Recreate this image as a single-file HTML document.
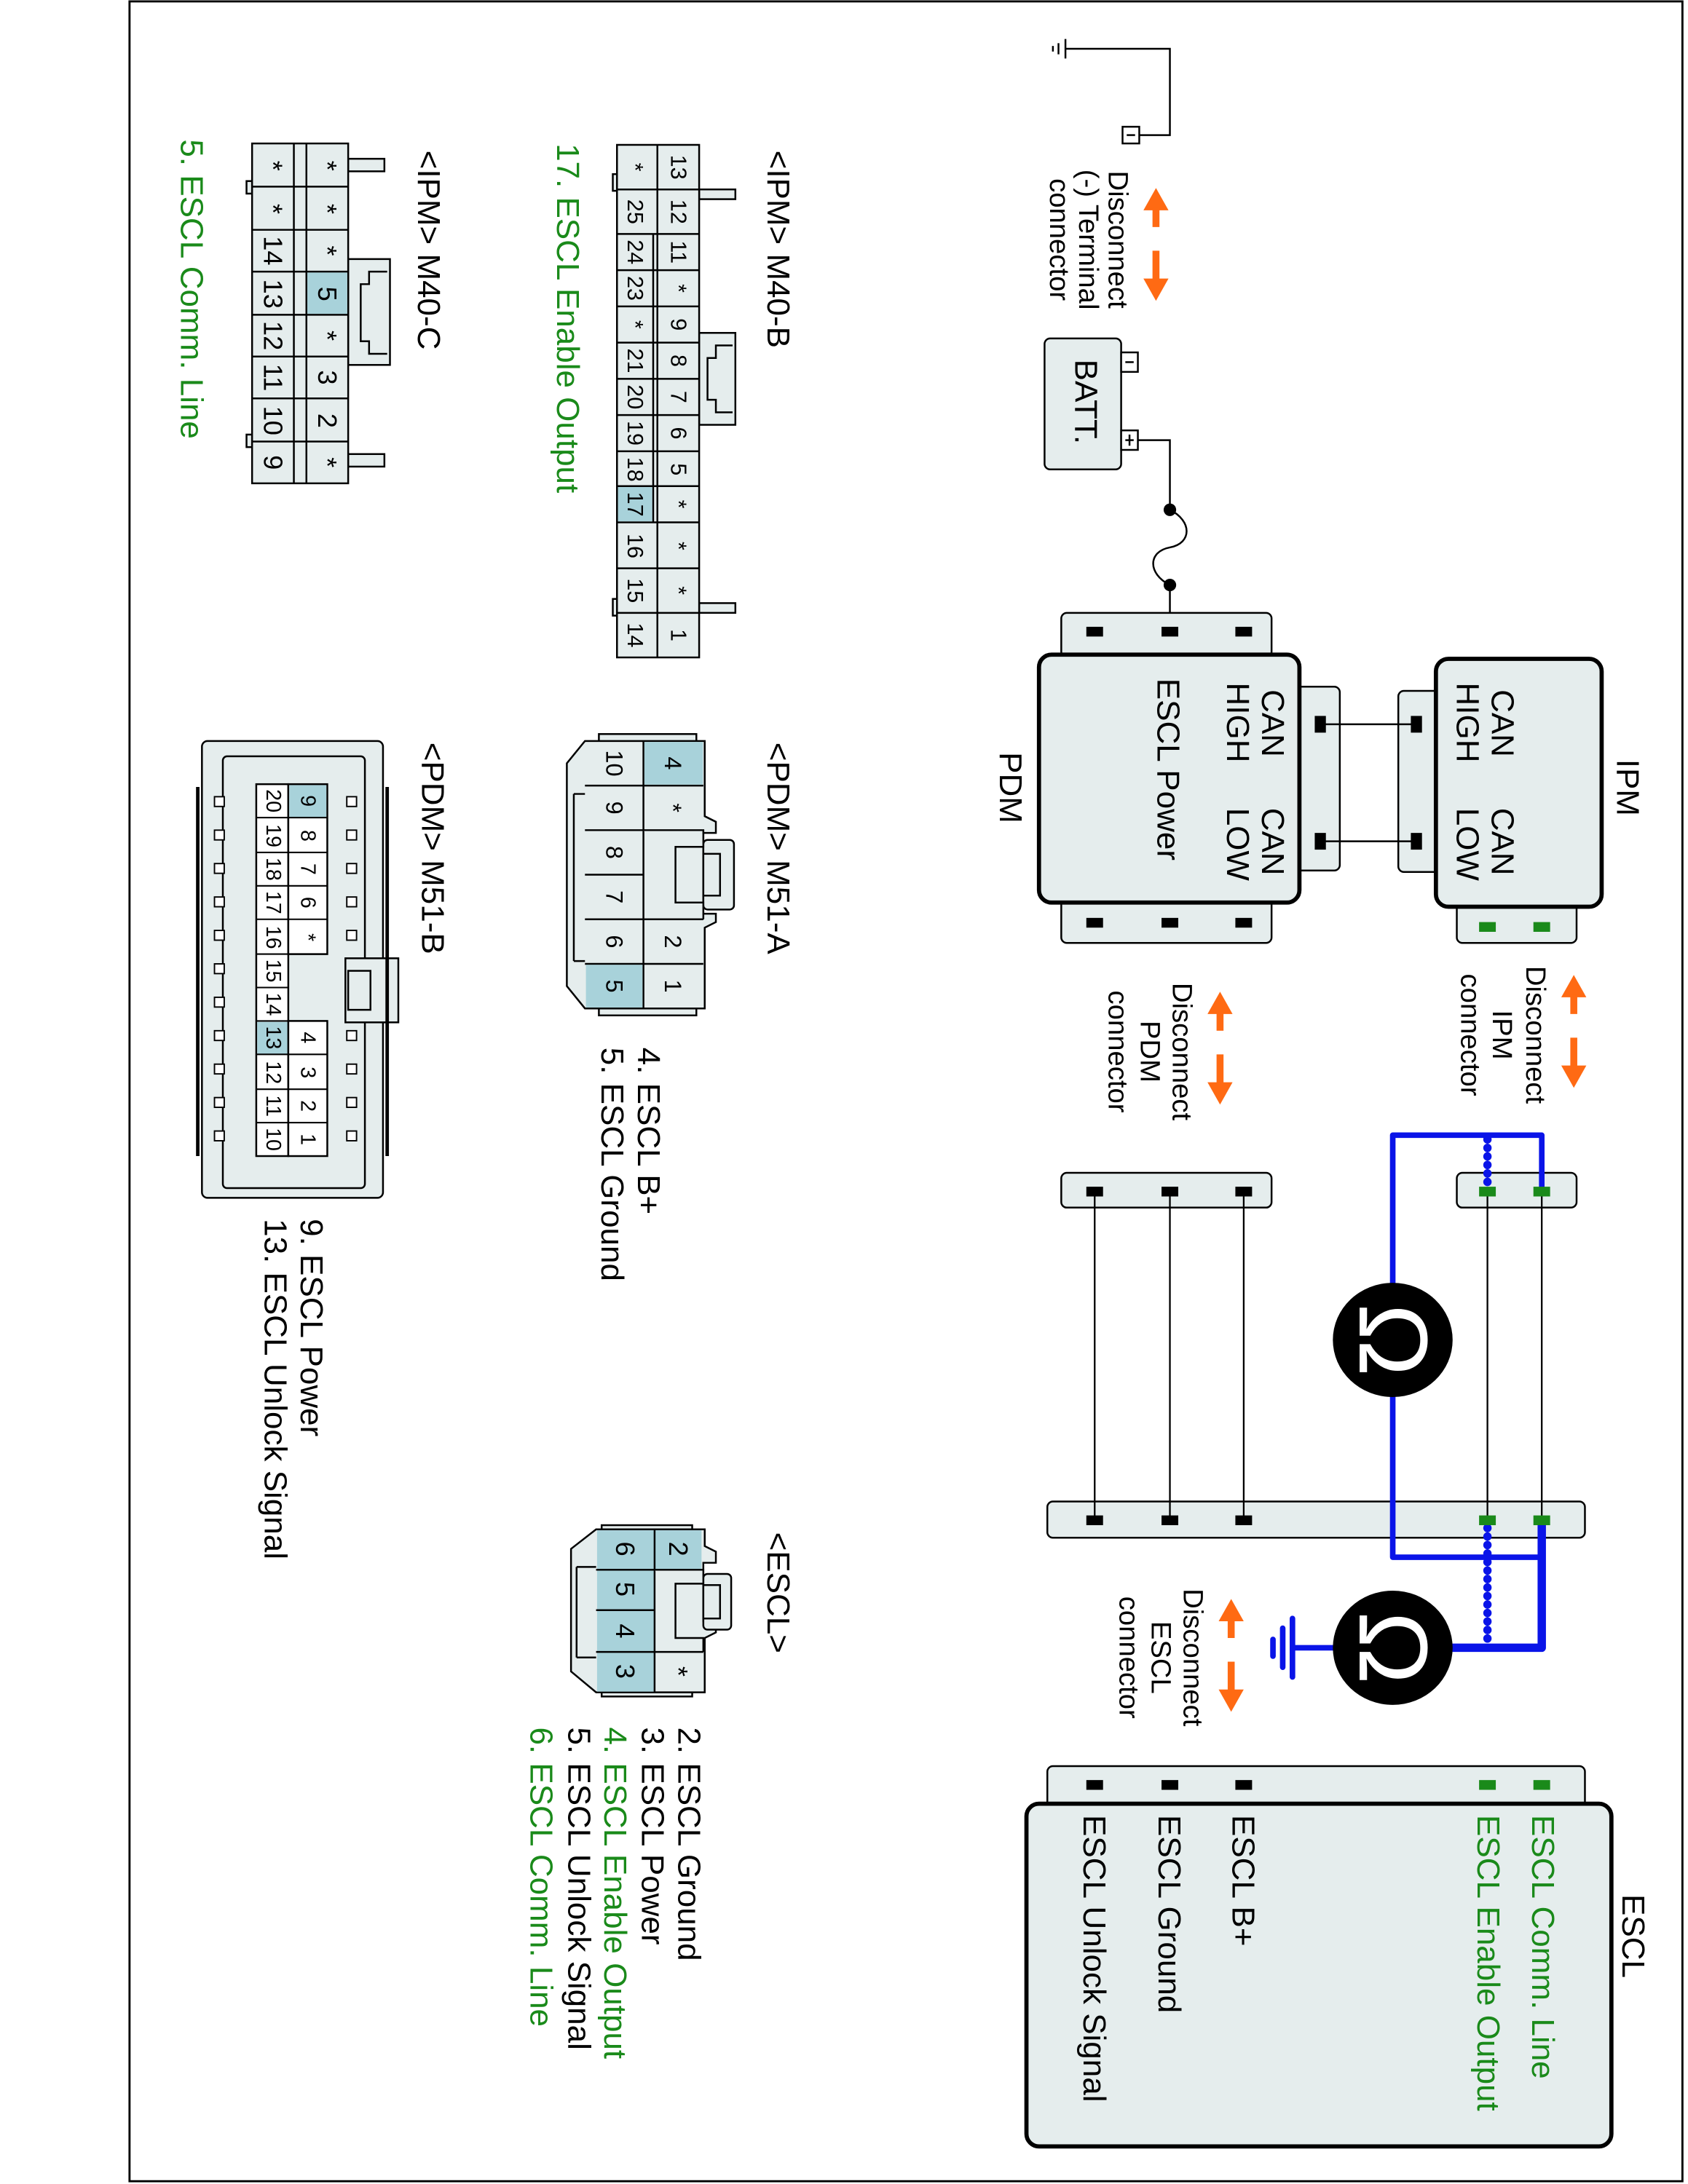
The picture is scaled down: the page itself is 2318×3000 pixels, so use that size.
<!DOCTYPE html>
<html><head><meta charset="utf-8"><style>
html,body{margin:0;padding:0;background:#fff;}
svg{display:block;}
text{font-family:"Liberation Sans",Arial,sans-serif;}
</style></head><body>
<svg width="2318" height="3000" viewBox="0 0 1212 1568" preserveAspectRatio="none" xmlns="http://www.w3.org/2000/svg">
<rect x="0" y="0" width="1212" height="1568" fill="#fff"/>
<rect x="93" y="1" width="1115" height="1565" fill="none" stroke="#000" stroke-width="1.5"/>

<!-- ground + minus terminal -->
<g stroke="#000" stroke-width="1.3" fill="none">
<path d="M765,35 H840 V97 H818"/>
<line x1="765" y1="28" x2="765" y2="42"/><line x1="760" y1="31" x2="760" y2="39"/><line x1="756" y1="33" x2="756" y2="37"/>
<rect x="806" y="91" width="12" height="12" fill="#fff"/>
<line x1="809" y1="97" x2="815" y2="97"/>
</g>
<!-- BATT -->
<rect x="750" y="243" width="55" height="94" rx="4" fill="#e5eded" stroke="#000" stroke-width="1.3"/>
<g stroke="#000" stroke-width="1.3" fill="#fff">
<rect x="805" y="253" width="12" height="14"/><line x1="808" y1="260" x2="814" y2="260"/>
<rect x="805" y="309" width="12" height="14"/><line x1="808" y1="316" x2="814" y2="316"/><line x1="811" y1="312" x2="811" y2="320"/>
</g>
<text transform="translate(772,258) rotate(90)" font-size="23">BATT.</text>
<path d="M817,316 H840 V366 C856,374 856,390 840,393 C824,396 824,412 840,420 V453" fill="none" stroke="#000" stroke-width="1.3"/>
<circle cx="840" cy="366" r="4.5"/><circle cx="840" cy="420" r="4.5"/>

<!-- orange arrows -->
<g fill="#ff6a13" stroke="none">
<g><polygon points="830,135 821,151 839,151"/><rect x="827.5" y="149" width="5" height="14"/><rect x="827.5" y="180" width="5" height="22"/><polygon points="830,216 821,200 839,200"/></g>
<g transform="translate(300,565)"><polygon points="830,135 821,151 839,151"/><rect x="827.5" y="149" width="5" height="14"/><rect x="827.5" y="180" width="5" height="22"/><polygon points="830,216 821,200 839,200"/></g>
<g transform="translate(46,577)"><polygon points="830,135 821,151 839,151"/><rect x="827.5" y="149" width="5" height="14"/><rect x="827.5" y="180" width="5" height="22"/><polygon points="830,216 821,200 839,200"/></g>
<g transform="translate(54,1013)"><polygon points="830,135 821,151 839,151"/><rect x="827.5" y="149" width="5" height="14"/><rect x="827.5" y="180" width="5" height="22"/><polygon points="830,216 821,200 839,200"/></g>
</g>
<g font-size="20" text-anchor="middle">
<text transform="translate(796,172) rotate(90)">Disconnect</text>
<text transform="translate(775,172) rotate(90)">(-) Terminal</text>
<text transform="translate(754,172) rotate(90)">connector</text>
<text transform="translate(1096,743) rotate(90)">Disconnect</text>
<text transform="translate(1072,743) rotate(90)">IPM</text>
<text transform="translate(1049,743) rotate(90)">connector</text>
<text transform="translate(842,755) rotate(90)">Disconnect</text>
<text transform="translate(819,755) rotate(90)">PDM</text>
<text transform="translate(796,755) rotate(90)">connector</text>
<text transform="translate(850,1190) rotate(90)">Disconnect</text>
<text transform="translate(827,1190) rotate(90)">ESCL</text>
<text transform="translate(804,1190) rotate(90)">connector</text>
</g>

<!-- PDM -->
<g stroke="#000" stroke-width="1.3" fill="#e5eded">
<rect x="762" y="440" width="151" height="32" rx="4"/>
<rect x="762" y="645" width="151" height="32" rx="4"/>
<rect x="930" y="493" width="32" height="132" rx="4"/>
<rect x="1004" y="496" width="30" height="130" rx="4"/>
<rect x="1046" y="648" width="86" height="29" rx="4"/>
<rect x="746" y="470" width="187" height="178" rx="9" stroke-width="3"/>
<rect x="1031" y="473" width="119" height="178" rx="9" stroke-width="3"/>
</g>
<g fill="#000">
<rect x="780" y="450" width="12" height="7"/><rect x="834" y="450" width="12" height="7"/><rect x="887" y="450" width="12" height="7"/>
<rect x="780" y="659" width="12" height="7"/><rect x="834" y="659" width="12" height="7"/><rect x="887" y="659" width="12" height="7"/>
<rect x="944" y="514" width="8" height="12"/><rect x="944" y="598" width="8" height="12"/>
<rect x="1013" y="514" width="8" height="12"/><rect x="1013" y="598" width="8" height="12"/>
</g>
<g stroke="#000" stroke-width="1.3"><line x1="948" y1="520" x2="1017" y2="520"/><line x1="948" y1="604" x2="1017" y2="604"/></g>
<g fill="#1a8a1a"><rect x="1062" y="662" width="12" height="7"/><rect x="1101" y="662" width="12" height="7"/></g>
<g font-size="23">
<text transform="translate(718,540) rotate(90)">PDM</text>
<text transform="translate(906,495) rotate(90)">CAN</text>
<text transform="translate(881,490) rotate(90)">HIGH</text>
<text transform="translate(906,580) rotate(90)">CAN</text>
<text transform="translate(881,580) rotate(90)">LOW</text>
<text transform="translate(831,487) rotate(90)">ESCL Power</text>
<text transform="translate(1071,495) rotate(90)">CAN</text>
<text transform="translate(1046,490) rotate(90)">HIGH</text>
<text transform="translate(1071,580) rotate(90)">CAN</text>
<text transform="translate(1046,580) rotate(90)">LOW</text>
<text transform="translate(1161,545) rotate(90)">IPM</text>
</g>

<!-- middle strips -->
<g stroke="#000" stroke-width="1.3" fill="#e5eded">
<rect x="1046" y="842" width="86" height="25" rx="4"/>
<rect x="762" y="842" width="151" height="25" rx="4"/>
<rect x="752" y="1078" width="386" height="26" rx="4"/>
<rect x="752" y="1268" width="386" height="30" rx="4"/>
</g>
<g stroke="#000" stroke-width="1.2">
<line x1="786" y1="855" x2="786" y2="1091"/><line x1="840" y1="855" x2="840" y2="1091"/><line x1="893" y1="855" x2="893" y2="1091"/>
<line x1="1068" y1="855" x2="1068" y2="1091"/><line x1="1107" y1="855" x2="1107" y2="1091"/>
</g>
<!-- blue -->
<g stroke="#0a14e8" fill="none" stroke-linejoin="round">
<path d="M1107,855 V815 H1000 V925" stroke-width="4"/>
<path d="M1000,1000 V1118 H1107" stroke-width="4"/>
<path d="M1107,1091 V1183 H1040" stroke-width="6"/>
<line x1="1068" y1="818" x2="1068" y2="852" stroke-width="6" stroke-dasharray="0.1,6" stroke-linecap="round"/>
<line x1="1068" y1="1097" x2="1068" y2="1181" stroke-width="6" stroke-dasharray="0.1,6" stroke-linecap="round"/>
<line x1="960" y1="1183" x2="928" y2="1183" stroke-width="4"/>
<line x1="928" y1="1162" x2="928" y2="1204" stroke-width="4" stroke-linecap="round"/>
<line x1="921" y1="1169" x2="921" y2="1197" stroke-width="4" stroke-linecap="round"/>
<line x1="914" y1="1177" x2="914" y2="1189" stroke-width="4" stroke-linecap="round"/>
</g>
<g fill="#000">
<rect x="780" y="852" width="12" height="7"/><rect x="834" y="852" width="12" height="7"/><rect x="887" y="852" width="12" height="7"/>
<rect x="780" y="1088" width="12" height="7"/><rect x="834" y="1088" width="12" height="7"/><rect x="887" y="1088" width="12" height="7"/>
<rect x="780" y="1278" width="12" height="7"/><rect x="834" y="1278" width="12" height="7"/><rect x="887" y="1278" width="12" height="7"/>
</g>
<g fill="#1a8a1a">
<rect x="1062" y="852" width="12" height="7"/><rect x="1101" y="852" width="12" height="7"/>
<rect x="1062" y="1088" width="12" height="7"/><rect x="1101" y="1088" width="12" height="7"/>
<rect x="1062" y="1278" width="12" height="7"/><rect x="1101" y="1278" width="12" height="7"/>
</g>
<ellipse cx="1000" cy="962" rx="43" ry="41"/>
<ellipse cx="1000" cy="1183" rx="43" ry="41"/>
<g fill="#fff" font-size="70" text-anchor="middle" dominant-baseline="central">
<text transform="translate(1000,962) rotate(90)">Ω</text>
<text transform="translate(1000,1183) rotate(90)">Ω</text>
</g>

<!-- ESCL box -->
<rect x="737" y="1295" width="420" height="246" rx="9" fill="#e5eded" stroke="#000" stroke-width="3"/>
<g font-size="23">
<text transform="translate(1100,1303) rotate(90)" fill="#1a8a1a">ESCL Comm. Line</text>
<text transform="translate(1061,1303) rotate(90)" fill="#1a8a1a">ESCL Enable Output</text>
<text transform="translate(885,1303) rotate(90)">ESCL B+</text>
<text transform="translate(832,1303) rotate(90)">ESCL Ground</text>
<text transform="translate(778,1303) rotate(90)">ESCL Unlock Signal</text>
<text transform="translate(1165,1360) rotate(90)">ESCL</text>
</g>

<!-- ===== Connector faces ===== -->
<g font-size="23">
<text transform="translate(551,108) rotate(90)">&lt;IPM&gt; M40-B</text>
<text transform="translate(300,108) rotate(90)">&lt;IPM&gt; M40-C</text>
<text transform="translate(551,533) rotate(90)">&lt;PDM&gt; M51-A</text>
<text transform="translate(303,533) rotate(90)">&lt;PDM&gt; M51-B</text>
<text transform="translate(551,1100) rotate(90)">&lt;ESCL&gt;</text>
<text transform="translate(400,103) rotate(90)" fill="#1a8a1a">17. ESCL Enable Output</text>
<text transform="translate(130,100) rotate(90)" fill="#1a8a1a">5. ESCL Comm. Line</text>
<text transform="translate(458,752) rotate(90)">4. ESCL B+</text>
<text transform="translate(432,752) rotate(90)">5. ESCL Ground</text>
<text transform="translate(216,875) rotate(90)">9. ESCL Power</text>
<text transform="translate(190,875) rotate(90)">13. ESCL Unlock Signal</text>
<text transform="translate(487,1240) rotate(90)">2. ESCL Ground</text>
<text transform="translate(461,1240) rotate(90)">3. ESCL Power</text>
<text transform="translate(434,1240) rotate(90)" fill="#1a8a1a">4. ESCL Enable Output</text>
<text transform="translate(408,1240) rotate(90)">5. ESCL Unlock Signal</text>
<text transform="translate(381,1240) rotate(90)" fill="#1a8a1a">6. ESCL Comm. Line</text>
</g>

<!-- M40-B -->
<g stroke="#000" stroke-width="1.3" fill="#e5eded">
<rect x="502" y="136" width="26" height="7"/><rect x="502" y="433" width="26" height="7"/>
<rect x="440" y="125" width="4" height="12"/><rect x="440" y="430" width="4" height="12"/>
<rect x="502" y="239" width="26" height="66"/>
<path d="M526,248 H514 V257 H508 V287 H514 V296 H526" fill="none"/>
<rect x="443" y="104" width="59" height="368"/>
</g>
<g stroke="#000" stroke-width="1.3" fill="none">
<line x1="472" y1="104" x2="472" y2="472"/>
<line x1="469" y1="168" x2="469" y2="375"/>
<path d="M443,136 H502 M443,168 H502 M443,194 H502 M443,220 H502 M443,246 H502 M443,272 H502 M443,298 H502 M443,324 H502 M443,349 H502 M443,375 H502 M443,408 H502 M443,440 H502"/>
</g>
<rect x="443.7" y="349.7" width="24.6" height="24.6" fill="#a8d2da"/>
<g font-size="16" text-anchor="middle" dominant-baseline="central">
<text transform="translate(487,120) rotate(90)">13</text><text transform="translate(487,152) rotate(90)">12</text><text transform="translate(487,181) rotate(90)">11</text><text transform="translate(487,207) rotate(90)">*</text><text transform="translate(487,233) rotate(90)">9</text><text transform="translate(487,259) rotate(90)">8</text><text transform="translate(487,285) rotate(90)">7</text><text transform="translate(487,311) rotate(90)">6</text><text transform="translate(487,337) rotate(90)">5</text><text transform="translate(487,362) rotate(90)">*</text><text transform="translate(487,392) rotate(90)">*</text><text transform="translate(487,424) rotate(90)">*</text><text transform="translate(487,456) rotate(90)">1</text>
<text transform="translate(456,120) rotate(90)">*</text><text transform="translate(456,152) rotate(90)">25</text><text transform="translate(456,181) rotate(90)">24</text><text transform="translate(456,207) rotate(90)">23</text><text transform="translate(456,233) rotate(90)">*</text><text transform="translate(456,259) rotate(90)">21</text><text transform="translate(456,285) rotate(90)">20</text><text transform="translate(456,311) rotate(90)">19</text><text transform="translate(456,337) rotate(90)">18</text><text transform="translate(456,362) rotate(90)">17</text><text transform="translate(456,392) rotate(90)">16</text><text transform="translate(456,424) rotate(90)">15</text><text transform="translate(456,456) rotate(90)">14</text>
</g>

<!-- M40-C -->
<g stroke="#000" stroke-width="1.3" fill="#e5eded">
<rect x="250" y="114" width="26" height="9"/><rect x="250" y="326" width="26" height="9"/>
<rect x="177" y="130" width="4" height="9"/><rect x="177" y="312" width="4" height="9"/>
<rect x="250" y="186" width="30" height="76"/>
<path d="M278,195 H265 V204 H259 V245 H265 V254 H278" fill="none"/>
<rect x="181" y="103" width="69" height="244"/>
</g>
<g stroke="#000" stroke-width="1.3" fill="none">
<line x1="211" y1="103" x2="211" y2="347"/><line x1="220" y1="103" x2="220" y2="347"/>
<path d="M181,134 H250 M181,165 H250 M181,195 H250 M181,226 H250 M181,256 H250 M181,286 H250 M181,317 H250"/>
</g>
<rect x="220.7" y="195.7" width="28.6" height="29.6" fill="#a8d2da"/>
<g font-size="19" text-anchor="middle" dominant-baseline="central">
<text transform="translate(235,119) rotate(90)">*</text><text transform="translate(235,150) rotate(90)">*</text><text transform="translate(235,180) rotate(90)">*</text><text transform="translate(235,211) rotate(90)">5</text><text transform="translate(235,241) rotate(90)">*</text><text transform="translate(235,271) rotate(90)">3</text><text transform="translate(235,302) rotate(90)">2</text><text transform="translate(235,332) rotate(90)">*</text>
<text transform="translate(196,119) rotate(90)">*</text><text transform="translate(196,150) rotate(90)">*</text><text transform="translate(196,180) rotate(90)">14</text><text transform="translate(196,211) rotate(90)">13</text><text transform="translate(196,241) rotate(90)">12</text><text transform="translate(196,271) rotate(90)">11</text><text transform="translate(196,302) rotate(90)">10</text><text transform="translate(196,332) rotate(90)">9</text>
</g>

<!-- M51-A -->
<g stroke="#000" stroke-width="1.3" fill="#e5eded">
<rect x="430" y="527" width="70" height="202"/>
<path d="M420,532 H506 V586 L514,590 V598 H505 V656 H514 V662 L506,666 V724 H420 L407,708 V548 Z"/>
<rect x="505" y="603" width="22" height="50" rx="3"/>
<rect x="505" y="613" width="12" height="30"/>
</g>
<g stroke="#000" stroke-width="1.3" fill="none">
<path d="M412,570 H420 M412,690 H420 M412,570 V690"/>
<line x1="462" y1="532" x2="462" y2="724"/>
<path d="M420,564 H505 M420,596 H462 M420,628 H462 M420,660 H505 M420,692 H505"/>
<path d="M462,596 H505 V608 H485 V648 H505 V660" fill="#e5eded"/>
</g>
<rect x="462.7" y="532.7" width="42" height="30.6" fill="#a8d2da"/>
<rect x="420.7" y="692.7" width="40.6" height="30.6" fill="#a8d2da"/>
<g font-size="17" text-anchor="middle" dominant-baseline="central">
<text transform="translate(483,548) rotate(90)">4</text><text transform="translate(483,580) rotate(90)">*</text><text transform="translate(483,676) rotate(90)">2</text><text transform="translate(483,708) rotate(90)">1</text>
<text transform="translate(441,548) rotate(90)">10</text><text transform="translate(441,580) rotate(90)">9</text><text transform="translate(441,612) rotate(90)">8</text><text transform="translate(441,644) rotate(90)">7</text><text transform="translate(441,676) rotate(90)">6</text><text transform="translate(441,708) rotate(90)">5</text>
</g>

<!-- M51-B -->
<g stroke="#000" stroke-width="1.3" fill="#e5eded">
<rect x="145" y="532" width="130" height="328" rx="4"/>
<rect x="160" y="543" width="102" height="310" rx="3"/>
<rect x="248" y="688" width="38" height="46"/>
<rect x="250" y="697" width="16" height="28"/>
<rect x="184" y="563" width="23" height="267" fill="#fff"/>
<rect x="207" y="563" width="28" height="122" fill="#fff"/>
<rect x="207" y="733" width="28" height="97" fill="#fff"/>
</g>
<g stroke="#000" stroke-width="2.5"><line x1="142" y1="565" x2="142" y2="830"/><line x1="278" y1="565" x2="278" y2="830"/></g>
<rect x="207.7" y="563.7" width="26.6" height="23.6" fill="#a8d2da"/>
<rect x="184.7" y="733.7" width="21.6" height="23.6" fill="#a8d2da"/>
<g stroke="#000" stroke-width="1.1" fill="none">
<path d="M184,587 H235 M184,612 H235 M184,636 H235 M184,660 H235 M184,685 H235 M184,709 H207 M184,733 H235 M184,757 H235 M184,782 H235 M184,806 H235"/>
</g>
<g stroke="#000" stroke-width="1" fill="#fff">
<rect x="154" y="572" width="7" height="7"/><rect x="154" y="596" width="7" height="7"/><rect x="154" y="620" width="7" height="7"/><rect x="154" y="644" width="7" height="7"/><rect x="154" y="668" width="7" height="7"/><rect x="154" y="692" width="7" height="7"/><rect x="154" y="716" width="7" height="7"/><rect x="154" y="740" width="7" height="7"/><rect x="154" y="764" width="7" height="7"/><rect x="154" y="788" width="7" height="7"/><rect x="154" y="812" width="7" height="7"/>
<rect x="249" y="572" width="7" height="7"/><rect x="249" y="596" width="7" height="7"/><rect x="249" y="620" width="7" height="7"/><rect x="249" y="644" width="7" height="7"/><rect x="249" y="668" width="7" height="7"/><rect x="249" y="740" width="7" height="7"/><rect x="249" y="764" width="7" height="7"/><rect x="249" y="788" width="7" height="7"/><rect x="249" y="812" width="7" height="7"/>
</g>
<g font-size="15" text-anchor="middle" dominant-baseline="central">
<text transform="translate(221,575) rotate(90)">9</text><text transform="translate(221,600) rotate(90)">8</text><text transform="translate(221,624) rotate(90)">7</text><text transform="translate(221,648) rotate(90)">6</text><text transform="translate(221,673) rotate(90)">*</text>
<text transform="translate(221,745) rotate(90)">4</text><text transform="translate(221,770) rotate(90)">3</text><text transform="translate(221,794) rotate(90)">2</text><text transform="translate(221,818) rotate(90)">1</text>
<text transform="translate(196,575) rotate(90)">20</text><text transform="translate(196,600) rotate(90)">19</text><text transform="translate(196,624) rotate(90)">18</text><text transform="translate(196,648) rotate(90)">17</text><text transform="translate(196,673) rotate(90)">16</text><text transform="translate(196,697) rotate(90)">15</text><text transform="translate(196,721) rotate(90)">14</text><text transform="translate(196,745) rotate(90)">13</text><text transform="translate(196,770) rotate(90)">12</text><text transform="translate(196,794) rotate(90)">11</text><text transform="translate(196,818) rotate(90)">10</text>
</g>

<!-- ESCL connector -->
<g stroke="#000" stroke-width="1.3" fill="#e5eded">
<rect x="432" y="1095" width="65" height="123"/>
<path d="M428,1098 H506 V1110 L514,1114 V1122 H505 V1164 H514 V1172 L506,1176 V1215 H428 L410,1200 V1112 Z"/>
<rect x="505" y="1130" width="20" height="40" rx="3"/>
<rect x="505" y="1138" width="12" height="24"/>
<path d="M414,1125 H428 M414,1190 H428 M414,1125 V1190" fill="none"/>
</g>
<rect x="428.7" y="1098.7" width="75" height="28" fill="#a8d2da"/>
<rect x="428.7" y="1127" width="41" height="87.5" fill="#a8d2da"/>
<g stroke="#000" stroke-width="1.3" fill="none">
<line x1="470" y1="1098" x2="470" y2="1215"/>
<path d="M428,1127 H505 M428,1156 H470 M428,1186 H505"/>
<path d="M470,1127 H505 V1137 H485 V1176 H505 V1186" fill="#e5eded"/>
</g>
<g font-size="19" text-anchor="middle" dominant-baseline="central">
<text transform="translate(487,1112) rotate(90)">2</text><text transform="translate(487,1200) rotate(90)">*</text>
<text transform="translate(449,1112) rotate(90)">6</text><text transform="translate(449,1141) rotate(90)">5</text><text transform="translate(449,1171) rotate(90)">4</text><text transform="translate(449,1200) rotate(90)">3</text>
</g>
</svg>
</body></html>
